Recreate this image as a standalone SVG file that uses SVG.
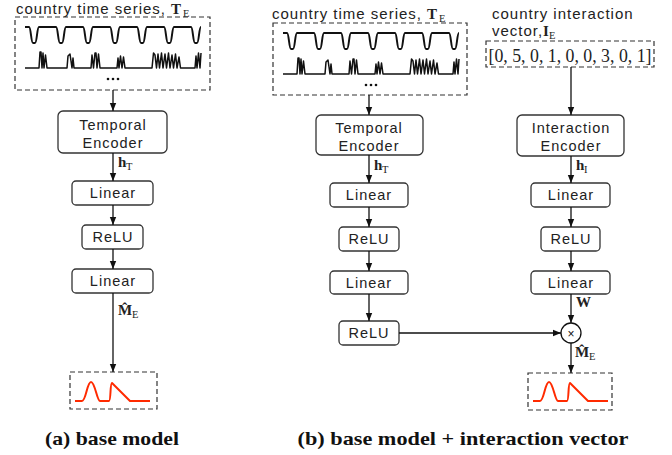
<svg xmlns="http://www.w3.org/2000/svg" xmlns:xlink="http://www.w3.org/1999/xlink" width="672" height="455" viewBox="0 0 672 455">
<style>
.box{fill:#fff;stroke:#333;stroke-width:1.3}
.dash{fill:none;stroke:#333;stroke-width:1.2;stroke-dasharray:5,3}
.lbl{font-family:"Liberation Sans",Arial,sans-serif;font-size:14.5px;letter-spacing:1px;fill:#222;text-anchor:middle}
.ttl{font-family:"Liberation Sans",Arial,sans-serif;font-size:15px;letter-spacing:1px;fill:#222}
.mb{font-family:"Liberation Serif","Times New Roman",serif;font-weight:bold;font-size:15px;fill:#222}
.ms{font-family:"Liberation Serif","Times New Roman",serif;font-size:10.5px;fill:#222}
.cap{font-family:"Liberation Serif","Times New Roman",serif;font-weight:bold;font-size:19px;fill:#111;text-anchor:middle}
.wave{fill:none;stroke:#111;stroke-width:2;stroke-linejoin:round}
.spk{fill:none;stroke:#111;stroke-width:1.5;stroke-linejoin:round}
.red{fill:none;stroke:#ff2a00;stroke-width:2;stroke-linejoin:round}
.conn{fill:none;stroke:#111;stroke-width:1.3}
</style>
<defs>
<marker id="ah" markerUnits="userSpaceOnUse" markerWidth="8" markerHeight="10" refX="10" refY="4" viewBox="0 0 10 8" orient="auto">
<path d="M0,0 L10,4 L0,8 z" fill="#111"/>
</marker>
<g id="series">
<path class="wave" d="M25,27 L29,27 C31,27 31,43 33,43 L35,43 C37,43 37,27 39,27 L56,27 C58,27 58,43 60,43 L62,43 C64,43 64,27 66,27 L83,27 C85,27 85,43 87,43 L89,43 C91,43 91,27 93,27 L110,27 C112,27 112,43 114,43 L116,43 C118,43 118,27 120,27 L137,27 C139,27 139,43 141,43 L143,43 C145,43 145,27 147,27 L164,27 C166,27 166,43 168,43 L170,43 C172,43 172,27 174,27 L191,27 C193,27 193,43 195,43 L197,43 C199,43 199,27 201,27"/>
<path class="spk" d="M25,68 L39,68 L40,52 L41,52 L42,68 L43,53 L44,68 L45.5,55 L47,68 L67,68 L68,56 L70,54 L72,68 L73,58 L74,68 L91,68 L92,55 L93.5,68 L95,53 L96,53 L97,68 L98.5,54 L100,68 L117,68 L118,58 L119,68 L120.5,56 L122,68 L123.5,57 L125,68 L152,68 L153.5,53 L155,55 L156.5,68 L158,54 L159.5,68 L161.5,53 L163,68 L165,54 L166.5,68 L168.5,53 L170,68 L172,55 L173.5,68 L175.5,54 L177,68 L179,57 L180.5,68 L195,68 L196,56 L197,68 L198.5,53 L200,68 L201,53"/>
<circle cx="108" cy="79" r="1.3" fill="#111"/>
<circle cx="113" cy="79" r="1.3" fill="#111"/>
<circle cx="118" cy="79" r="1.3" fill="#111"/>
</g>
<path id="curve" class="red" d="M75,401 L82,401 C86,401 87,382 91,382 C95,382 97,401 100,401 L109,401 C111,401 110,383 112,383 L130,401 L150,401"/>
</defs>

<!-- Panel (a) -->
<g id="a-input">
<text class="ttl" x="16" y="14">country time series,</text>
<text class="mb" x="171" y="14" font-size="16px">T</text><text class="ms" x="183" y="17">E</text>
<rect class="dash" x="15" y="17" width="195" height="73"/>
<use xlink:href="#series"/>
</g>
<g id="a-temporal">
<rect class="box" x="58" y="111" width="109" height="42" rx="5"/>
<text class="lbl" x="113" y="130">Temporal</text>
<text class="lbl" x="113" y="148">Encoder</text>
</g>
<g id="a-linear1">
<rect class="box" x="72" y="181" width="81" height="24" rx="4"/>
<text class="lbl" x="113" y="198">Linear</text>
</g>
<g id="a-relu">
<rect class="box" x="82" y="225" width="61" height="24" rx="4"/>
<text class="lbl" x="113" y="242">ReLU</text>
</g>
<g id="a-linear2">
<rect class="box" x="72" y="269" width="81" height="24" rx="4"/>
<text class="lbl" x="113" y="286">Linear</text>
</g>
<g id="a-output">
<rect class="dash" x="70" y="372" width="87" height="37"/>
<use xlink:href="#curve"/>
</g>
<text class="cap" x="112" y="445" textLength="134" lengthAdjust="spacingAndGlyphs">(a) base model</text>

<!-- Panel (b) -->
<g id="b-input">
<text class="ttl" x="272" y="19">country time series,</text>
<text class="mb" x="427" y="19" font-size="16px">T</text><text class="ms" x="439" y="22">E</text>
<rect class="dash" x="273" y="23" width="194" height="72"/>
<use xlink:href="#series" transform="translate(258,6)"/>
</g>
<g id="b-temporal">
<rect class="box" x="316" y="115" width="107" height="40" rx="5"/>
<text class="lbl" x="369" y="133">Temporal</text>
<text class="lbl" x="369" y="151">Encoder</text>
</g>
<g id="b-linear1">
<rect class="box" x="330" y="183" width="78" height="24" rx="4"/>
<text class="lbl" x="369" y="200">Linear</text>
</g>
<g id="b-relu1">
<rect class="box" x="339" y="227" width="60" height="24" rx="4"/>
<text class="lbl" x="369" y="244">ReLU</text>
</g>
<g id="b-linear2">
<rect class="box" x="330" y="271" width="78" height="23" rx="4"/>
<text class="lbl" x="369" y="288">Linear</text>
</g>
<g id="b-relu2">
<rect class="box" x="339" y="321" width="60" height="24" rx="4"/>
<text class="lbl" x="369" y="338">ReLU</text>
</g>

<g id="b-vector">
<text class="ttl" x="492" y="19">country interaction</text>
<text class="ttl" x="492" y="36" letter-spacing="0.5px">vector,</text>
<text class="mb" x="543" y="36" font-size="16px">I</text><text class="ms" x="549" y="39">E</text>
<rect class="dash" x="486" y="41" width="168" height="26"/>
<text x="570" y="62" font-family="'Liberation Serif','Times New Roman',serif" font-size="18px" fill="#222" text-anchor="middle" textLength="163" lengthAdjust="spacingAndGlyphs">[0, 5, 0, 1, 0, 0, 3, 0, 1]</text>
</g>
<g id="b-interaction">
<rect class="box" x="517" y="115" width="107" height="41" rx="5"/>
<text class="lbl" x="571" y="133">Interaction</text>
<text class="lbl" x="571" y="151">Encoder</text>
</g>
<g id="b-linear3">
<rect class="box" x="531" y="183" width="79" height="24" rx="4"/>
<text class="lbl" x="571" y="200">Linear</text>
</g>
<g id="b-relu3">
<rect class="box" x="541" y="227" width="59" height="24" rx="4"/>
<text class="lbl" x="571" y="244">ReLU</text>
</g>
<g id="b-linear4">
<rect class="box" x="531" y="271" width="79" height="23" rx="4"/>
<text class="lbl" x="571" y="288">Linear</text>
</g>
<g id="b-mult">
<circle cx="571" cy="333" r="10" fill="#fff" stroke="#111" stroke-width="1.3"/>
<text x="571" y="337.5" font-family="'Liberation Sans',Arial,sans-serif" font-size="12px" fill="#111" text-anchor="middle">×</text>
</g>
<g id="b-output">
<rect class="dash" x="528" y="373" width="84" height="37"/>
<use xlink:href="#curve" transform="translate(458,0)"/>
</g>
<text class="cap" x="463" y="445" textLength="331" lengthAdjust="spacingAndGlyphs">(b) base model + interaction vector</text>

<!-- Connectors -->
<g id="connectors">
<line class="conn" x1="113" y1="90" x2="113" y2="111" marker-end="url(#ah)"/>
<line class="conn" x1="113" y1="153" x2="113" y2="181" marker-end="url(#ah)"/>
<line class="conn" x1="113" y1="205" x2="113" y2="225" marker-end="url(#ah)"/>
<line class="conn" x1="113" y1="249" x2="113" y2="269" marker-end="url(#ah)"/>
<line class="conn" x1="113" y1="293" x2="113" y2="372" marker-end="url(#ah)"/>
<line class="conn" x1="369" y1="95" x2="369" y2="115" marker-end="url(#ah)"/>
<line class="conn" x1="369" y1="155" x2="369" y2="183" marker-end="url(#ah)"/>
<line class="conn" x1="369" y1="207" x2="369" y2="227" marker-end="url(#ah)"/>
<line class="conn" x1="369" y1="251" x2="369" y2="271" marker-end="url(#ah)"/>
<line class="conn" x1="369" y1="294" x2="369" y2="321" marker-end="url(#ah)"/>
<line class="conn" x1="399" y1="333" x2="561" y2="333" marker-end="url(#ah)"/>
<line class="conn" x1="571" y1="67" x2="571" y2="115" marker-end="url(#ah)"/>
<line class="conn" x1="571" y1="156" x2="571" y2="183" marker-end="url(#ah)"/>
<line class="conn" x1="571" y1="207" x2="571" y2="227" marker-end="url(#ah)"/>
<line class="conn" x1="571" y1="251" x2="571" y2="271" marker-end="url(#ah)"/>
<line class="conn" x1="571" y1="294" x2="571" y2="323" marker-end="url(#ah)"/>
<line class="conn" x1="571" y1="343" x2="571" y2="373" marker-end="url(#ah)"/>
<text class="mb" x="118" y="167">h</text><text class="ms" x="126" y="170">T</text>
<text class="mb" x="118" y="315">M&#770;</text><text class="ms" x="132" y="318">E</text>
<text class="mb" x="374" y="170">h</text><text class="ms" x="382" y="173">T</text>
<text class="mb" x="576" y="170">h</text><text class="ms" x="584" y="173">I</text>
<text class="mb" x="576" y="307">W</text>
<text class="mb" x="575" y="357">M&#770;</text><text class="ms" x="589" y="360">E</text>
</g>
</svg>
